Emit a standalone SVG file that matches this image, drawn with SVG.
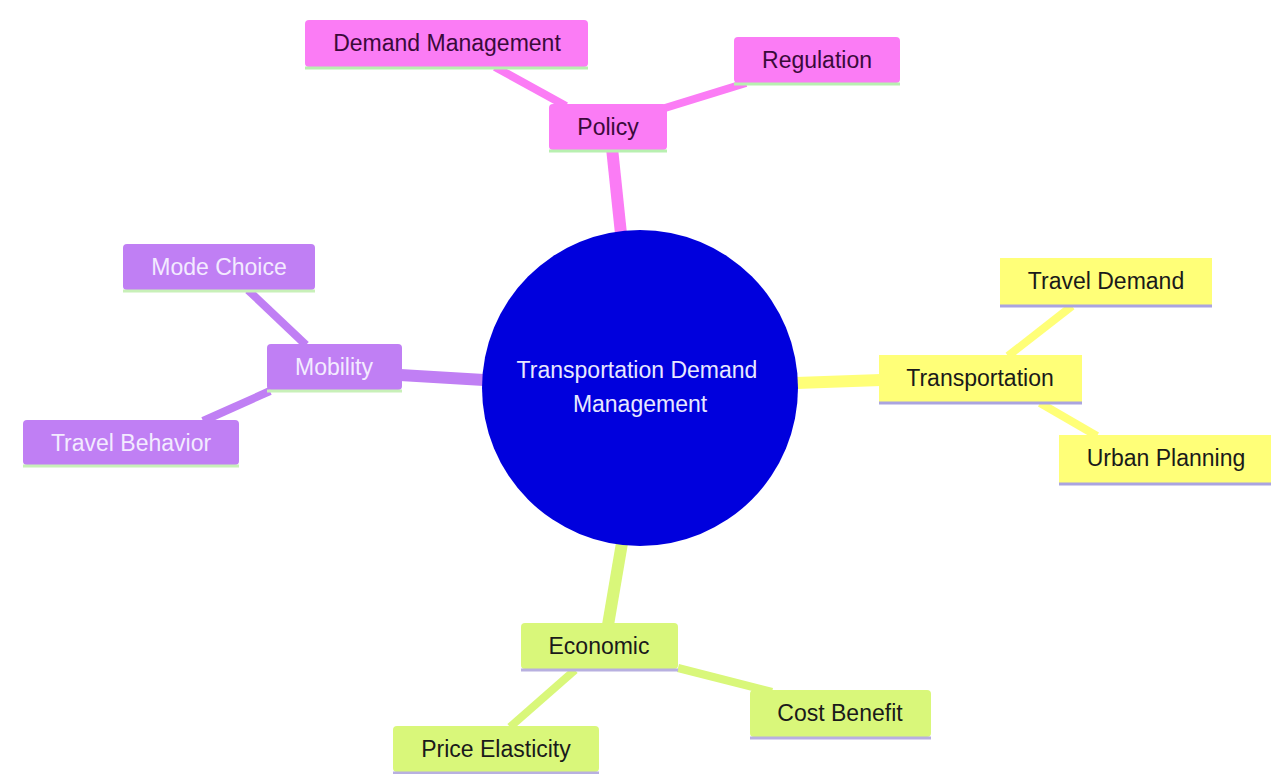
<svg xmlns="http://www.w3.org/2000/svg" width="1271" height="774" viewBox="0 0 1271 774">
<style>
text{font-family:"Liberation Sans",Arial,sans-serif;font-size:23px;text-anchor:middle}
.pk rect.b{fill:#fb7cf5}.pk text{fill:#3a0a3a}.pk line{stroke:#b8f0b0}
.pu rect.b{fill:#c07ff4}.pu text{fill:#f3ebff}.pu line{stroke:#c8f0b8}
.ye rect.b{fill:#ffff78}.ye text{fill:#1a1a1a}.ye line{stroke:#aaa4e0}
.gr rect.b{fill:#d9f77a}.gr text{fill:#1a1a1a}.gr line{stroke:#b8b0e0}
.edge{fill:none;stroke-linecap:butt}
</style>
<rect width="1271" height="774" fill="#ffffff"/>
<g id="connectors">
<line class="edge" x1="612" y1="148" x2="621" y2="234" stroke="#fb7cf5" stroke-width="12"/>
<line class="edge" x1="400" y1="375" x2="484" y2="380" stroke="#c07ff4" stroke-width="12"/>
<line class="edge" x1="796" y1="383" x2="881" y2="380" stroke="#ffff78" stroke-width="12"/>
<line class="edge" x1="622" y1="543" x2="608" y2="625" stroke="#d9f77a" stroke-width="12"/>
<line class="edge" x1="495" y1="67" x2="566" y2="106" stroke="#fb7cf5" stroke-width="8"/>
<line class="edge" x1="665" y1="108" x2="746" y2="83" stroke="#fb7cf5" stroke-width="8"/>
<line class="edge" x1="248" y1="290" x2="306" y2="345" stroke="#c07ff4" stroke-width="8"/>
<line class="edge" x1="270" y1="391" x2="203" y2="421" stroke="#c07ff4" stroke-width="8"/>
<line class="edge" x1="1072" y1="306" x2="1008" y2="356" stroke="#ffff78" stroke-width="8"/>
<line class="edge" x1="1040" y1="403" x2="1097" y2="436" stroke="#ffff78" stroke-width="8"/>
<line class="edge" x1="575" y1="670" x2="510" y2="727" stroke="#d9f77a" stroke-width="8"/>
<line class="edge" x1="678" y1="668" x2="772" y2="692" stroke="#d9f77a" stroke-width="8"/>
</g>
<g id="root">
<circle cx="640" cy="388" r="158" fill="#0000dd"/>
<text x="637" y="378" fill="#e8e8ff">Transportation Demand</text>
<text x="640" y="412" fill="#e8e8ff">Management</text>
</g>
<g id="policy" class="pk"><rect class="b" x="549" y="104" width="118" height="46" rx="4"/><line x1="549" y1="151" x2="667" y2="151" stroke-width="3"/><text x="608" y="135">Policy</text></g>
<g id="demand-management" class="pk"><rect class="b" x="305" y="20" width="283" height="47" rx="4"/><line x1="305" y1="68" x2="588" y2="68" stroke-width="3"/><text x="447" y="51">Demand Management</text></g>
<g id="regulation" class="pk"><rect class="b" x="734" y="37" width="166" height="46" rx="4"/><line x1="734" y1="84" x2="900" y2="84" stroke-width="3"/><text x="817" y="68">Regulation</text></g>
<g id="mobility" class="pu"><rect class="b" x="267" y="344" width="135" height="46" rx="4"/><line x1="267" y1="391" x2="402" y2="391" stroke-width="3"/><text x="334" y="375">Mobility</text></g>
<g id="mode-choice" class="pu"><rect class="b" x="123" y="244" width="192" height="46" rx="4"/><line x1="123" y1="291" x2="315" y2="291" stroke-width="3"/><text x="219" y="275">Mode Choice</text></g>
<g id="travel-behavior" class="pu"><rect class="b" x="23" y="420" width="216" height="45" rx="4"/><line x1="23" y1="466" x2="239" y2="466" stroke-width="3"/><text x="131" y="451">Travel Behavior</text></g>
<g id="transportation" class="ye"><rect class="b" x="879" y="355" width="203" height="47" rx="0"/><line x1="879" y1="403" x2="1082" y2="403" stroke-width="3"/><text x="980" y="386">Transportation</text></g>
<g id="travel-demand" class="ye"><rect class="b" x="1000" y="258" width="212" height="47" rx="0"/><line x1="1000" y1="306" x2="1212" y2="306" stroke-width="3"/><text x="1106" y="289">Travel Demand</text></g>
<g id="urban-planning" class="ye"><rect class="b" x="1059" y="435" width="212" height="48" rx="0"/><line x1="1059" y1="484" x2="1271" y2="484" stroke-width="3"/><text x="1166" y="466">Urban Planning</text></g>
<g id="economic" class="gr"><rect class="b" x="521" y="623" width="157" height="46" rx="4"/><line x1="521" y1="670" x2="678" y2="670" stroke-width="3"/><text x="599" y="654">Economic</text></g>
<g id="cost-benefit" class="gr"><rect class="b" x="750" y="690" width="181" height="47" rx="4"/><line x1="750" y1="738" x2="931" y2="738" stroke-width="3"/><text x="840" y="721">Cost Benefit</text></g>
<g id="price-elasticity" class="gr"><rect class="b" x="393" y="726" width="206" height="46" rx="4"/><line x1="393" y1="773" x2="599" y2="773" stroke-width="3"/><text x="496" y="757">Price Elasticity</text></g>
</svg>
